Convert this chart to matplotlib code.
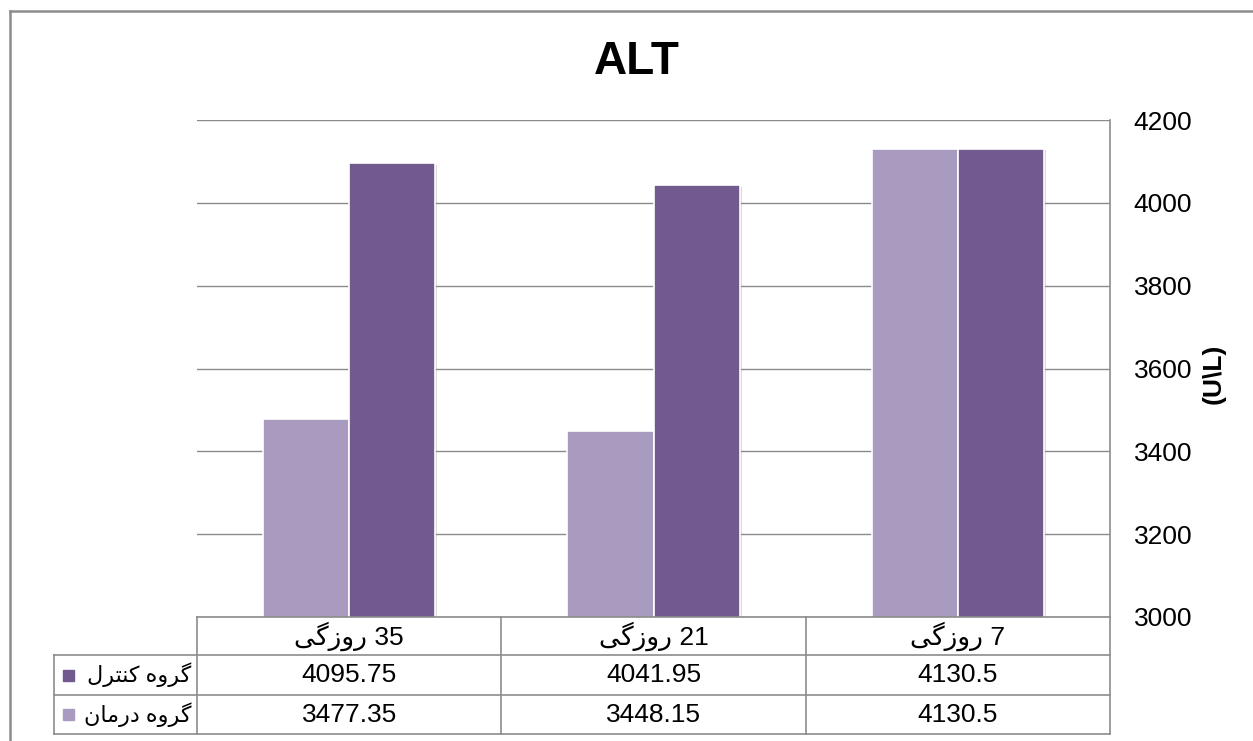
import matplotlib
matplotlib.use("Agg")
import matplotlib.pyplot as plt
from matplotlib.patches import Rectangle
from matplotlib.lines import Line2D
import matplotlib.patheffects as pe

# ---------------- data ----------------
days = ["روزگی 7", "روزگی 21", "روزگی 35"]
series_names = ["گروه کنترل", "گروه درمان"]
control = [4130.5, 4041.95, 4095.75]
treatment = [4130.5, 3448.15, 3477.35]
control_labels = ["4130.5", "4041.95", "4095.75"]
treatment_labels = ["4130.5", "3448.15", "3477.35"]
y_ticks = [3000, 3200, 3400, 3600, 3800, 4000, 4200]
title = "ALT"
y_label = r"(U\L)"

# ---------------- minimal Persian shaping (matplotlib has no bidi/shaping) ----------------
FORMS = {  # isolated, final, initial, medial
    'ا': ('\uFE8D', '\uFE8E', None, None),
    'د': ('\uFEA9', '\uFEAA', None, None),
    'ر': ('\uFEAD', '\uFEAE', None, None),
    'ز': ('\uFEAF', '\uFEB0', None, None),
    'و': ('\uFEED', '\uFEEE', None, None),
    'ه': ('\uFEE9', '\uFEEA', '\uFEEB', '\uFEEC'),
    'م': ('\uFEE1', '\uFEE2', '\uFEE3', '\uFEE4'),
    'ن': ('\uFEE5', '\uFEE6', '\uFEE7', '\uFEE8'),
    'ت': ('\uFE95', '\uFE96', '\uFE97', '\uFE98'),
    'ل': ('\uFEDD', '\uFEDE', '\uFEDF', '\uFEE0'),
    '\u06A9': ('\uFB8E', '\uFB8F', '\uFB90', '\uFB91'),
    '\u0643': ('\uFB8E', '\uFB8F', '\uFB90', '\uFB91'),
    '\u06AF': ('\uFB92', '\uFB93', '\uFB94', '\uFB95'),
    '\u06CC': ('\uFBFC', '\uFBFD', '\uFBFE', '\uFBFF'),
    '\u064A': ('\uFBFC', '\uFBFD', '\uFBFE', '\uFBFF'),
}


def shape_word(w):
    out = []
    n = len(w)
    for i, c in enumerate(w):
        f = FORMS.get(c)
        if f is None:
            out.append(c)
            continue
        jp = i > 0 and w[i - 1] in FORMS and FORMS[w[i - 1]][2] is not None
        jn = i < n - 1 and w[i + 1] in FORMS and f[2] is not None
        if jp and jn:
            out.append(f[3])
        elif jp:
            out.append(f[1])
        elif jn:
            out.append(f[2])
        else:
            out.append(f[0])
    return "".join(out)


def visual(s):
    toks = s.split(" ")
    res, run = [], []
    for t in toks:
        if t and t[0] in FORMS:
            run.append(shape_word(t)[::-1])
        else:
            if run:
                res.extend(run[::-1])
                run = []
            res.append(t)
    if run:
        res.extend(run[::-1])
    return " ".join(res)


# ---------------- style ----------------
FONT = ["Liberation Sans", "DejaVu Sans"]
plt.rcParams["font.family"] = FONT
DARK = "#725A8F"
LIGHT = "#A99BBF"
GRID = "#8A8A8A"
LINE = "#8C8C8C"
FS = 19

W, H = 1253, 741
fig = plt.figure(figsize=(W / 100, H / 100), dpi=100)
fig.patch.set_facecolor("white")

ax = fig.add_axes([197 / W, 1 - 617 / H, 913 / W, 497 / H])
ax.set_facecolor("none")
n = len(days)
ax.set_xlim(n, 0)  # right-to-left category order
ax.set_ylim(3000, 4200)

bw = 0.283
xs = [i + 0.5 for i in range(n)]
shadow = [pe.SimplePatchShadow(offset=(1.5, -1), shadow_rgbFace="#999999", alpha=0.35), pe.Normal()]
b1 = ax.bar([x + bw / 2 for x in xs], treatment, width=bw, color=LIGHT,
            edgecolor="white", linewidth=1.2, zorder=3)
b2 = ax.bar([x - bw / 2 for x in xs], control, width=bw, color=DARK,
            edgecolor="white", linewidth=1.2, zorder=3)
for p in list(b1) + list(b2):
    p.set_path_effects(shadow)

ax.set_yticks(y_ticks)
ax.yaxis.tick_right()
ax.tick_params(axis="y", length=0, pad=17, labelsize=FS)
ax.set_xticks([])
ax.grid(axis="y", color=GRID, linewidth=1.0, zorder=0)
for s in ["left", "top", "bottom"]:
    ax.spines[s].set_visible(False)
ax.spines["right"].set_color(LINE)
ax.spines["right"].set_linewidth(1.2)

ax.yaxis.set_label_position("right")
ax.set_ylabel(y_label, fontsize=19, fontweight="bold", rotation=90)
ax.yaxis.set_label_coords(1.113, 0.49)
ax.yaxis.label.set_va("center")
ax.yaxis.label.set_ha("center")

fig.text(637 / W, 1 - 62 / H, title, fontsize=33, fontweight="bold",
         ha="center", va="center")

# ---------------- overlay for data table and frame (pixel coords) ----------------
ov = fig.add_axes([0, 0, 1, 1], zorder=5)
ov.set_xlim(0, W)
ov.set_ylim(H, 0)
ov.axis("off")
ov.patch.set_visible(False)

fig.canvas.draw()
edges = [ax.transData.transform((v, 3000))[0] for v in range(n + 1)]  # pixel x of category edges
edges = sorted(edges)
x_left, x_right = edges[0], edges[-1]
y_top = H - ax.transData.transform((0, 3000))[1]
rows = [y_top, y_top + 38, y_top + 78, y_top + 117]
lab_left = 54

lkw = dict(color=LINE, linewidth=1.2)
ov.add_line(Line2D([x_left, x_right], [rows[0], rows[0]], **lkw))
for r in rows[1:]:
    ov.add_line(Line2D([lab_left, x_right], [r, r], **lkw))
for e in edges:
    ov.add_line(Line2D([e, e], [rows[0], rows[-1]], **lkw))
ov.add_line(Line2D([lab_left, lab_left], [rows[1], rows[-1]], **lkw))

# header (display order left->right follows inverted axis)
order = sorted(range(n), key=lambda i: ax.transData.transform((xs[i], 3000))[0])
for col, i in enumerate(order):
    cx = (edges[col] + edges[col + 1]) / 2
    ov.text(cx, (rows[0] + rows[1]) / 2, visual(days[i]), ha="center", va="center",
            fontsize=FS, family=FONT)
    ov.text(cx, (rows[1] + rows[2]) / 2, control_labels[i], ha="center", va="center",
            fontsize=FS, family=FONT)
    ov.text(cx, (rows[2] + rows[3]) / 2, treatment_labels[i], ha="center", va="center",
            fontsize=FS, family=FONT)

for k, (name, col) in enumerate(zip(series_names, [DARK, LIGHT])):
    cy = (rows[k + 1] + rows[k + 2]) / 2
    ov.add_patch(Rectangle((63, cy - 5.5), 11, 11, color=col))
    ov.text(x_left - 6, cy, visual(name), ha="right", va="center", fontsize=16, family=FONT)

# outer frame
fkw = dict(color="#8C8C8C", linewidth=1.8)
ov.add_line(Line2D([9.5, 9.5], [10.5, H], **fkw))
ov.add_line(Line2D([9.5, W], [10.5, 10.5], **fkw))

fig.savefig("out.png", dpi=100, facecolor="white")
